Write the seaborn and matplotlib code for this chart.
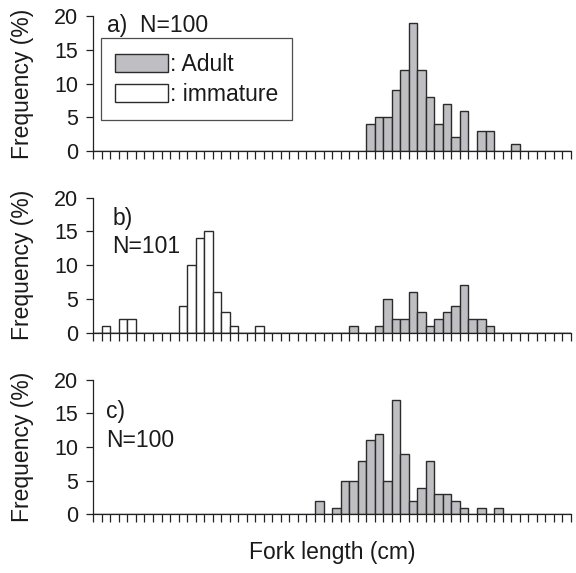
import numpy as np
import pandas as pd
import matplotlib
matplotlib.use("Agg")
import matplotlib.pyplot as plt
import seaborn as sns
from matplotlib.patches import Patch

sns.set_style("ticks")
plt.rcParams['font.family'] = ['Liberation Sans', 'DejaVu Sans']

# ---- data: frequency (%) per fork-length class (56 classes) ----
n_classes = 56
class_index = list(range(n_classes))

def fill(d):
    v = [0] * n_classes
    for k, val in d.items():
        v[k] = val
    return v

adult_a = fill({32: 4, 33: 5, 34: 5, 35: 9, 36: 12, 37: 19, 38: 12, 39: 8, 40: 4,
                41: 7, 42: 2, 43: 6, 45: 3, 46: 3, 49: 1})
immature_b = fill({1: 1, 3: 2, 4: 2, 10: 4, 11: 10, 12: 14, 13: 15, 14: 6, 15: 3,
                   16: 1, 19: 1})
adult_b = fill({30: 1, 33: 1, 34: 5, 35: 2, 36: 2, 37: 6, 38: 3, 39: 1, 40: 2,
                41: 3, 42: 4, 43: 7, 44: 2, 45: 2, 46: 1})
adult_c = fill({26: 2, 28: 1, 29: 5, 30: 5, 31: 8, 32: 11, 33: 12, 34: 5, 35: 17,
                36: 9, 37: 2, 38: 4, 39: 8, 40: 3, 41: 3, 42: 2, 43: 1, 45: 1, 47: 1})

panel_labels = ["a)  N=100", "b)\nN=101", "c)\nN=100"]
y_ticks = [0, 5, 10, 15, 20]
legend_labels = [": Adult", ": immature"]

ADULT = "#bfbfc3"
EDGE = "#2b2b2b"
TXT = "#1a1a1a"
FS = 16.5
FS_TICK = 15.5

fig = plt.figure(figsize=(5.76, 5.73), dpi=100)
left, width = 0.162, 0.829
bottoms = [0.7365, 0.4194, 0.1021]
h = 0.2355
axes = [fig.add_axes([left, b, width, h]) for b in bottoms]

centers = np.array(class_index) + 0.5

def draw(ax, vals, color):
    df = pd.DataFrame({"x": centers, "w": np.array(vals, dtype=float)})
    df = df[df.w > 0]
    sns.histplot(data=df, x="x", weights="w", binwidth=1, binrange=(0, n_classes),
                 stat="count", color=color, edgecolor=EDGE, linewidth=1.0,
                 alpha=1, ax=ax)

draw(axes[0], adult_a, ADULT)
draw(axes[1], immature_b, "white")
draw(axes[1], adult_b, ADULT)
draw(axes[2], adult_c, ADULT)

for ax in axes:
    ax.set_xlim(0, n_classes)
    ax.set_ylim(0, 20)
    ax.set_xticks(np.arange(n_classes + 1))
    ax.set_xticklabels([])
    ax.set_yticks(y_ticks)
    ax.set_yticklabels([str(t) for t in y_ticks], fontsize=FS_TICK, color=TXT)
    ax.tick_params(axis='x', direction='out', length=6, width=0.9, color="#222222")
    ax.tick_params(axis='y', direction='out', length=5, width=0.9, color="#222222", pad=6)
    sns.despine(ax=ax)
    for s in ["left", "bottom"]:
        ax.spines[s].set_linewidth(0.9)
        ax.spines[s].set_color("#222222")
    ax.set_xlabel("")
    ax.set_ylabel("Frequency (%)", fontsize=FS, color=TXT)
    ax.yaxis.set_label_coords(-0.125, 0.5)

axes[0].text(0.029, 0.88, panel_labels[0], transform=axes[0].transAxes,
             fontsize=FS, color=TXT, va="baseline", ha="left")
axes[1].text(0.040, 0.591, panel_labels[1], transform=axes[1].transAxes,
             fontsize=FS, color=TXT, va="baseline", ha="left", linespacing=1.3)
axes[2].text(0.027, 0.502, panel_labels[2], transform=axes[2].transAxes,
             fontsize=FS, color=TXT, va="baseline", ha="left", linespacing=1.3)

handles = [Patch(facecolor=ADULT, edgecolor=EDGE, linewidth=1.0),
           Patch(facecolor="white", edgecolor=EDGE, linewidth=1.0)]
leg = axes[0].legend(handles, legend_labels, loc="upper left",
                     bbox_to_anchor=(0.0155, 0.834), borderaxespad=0,
                     fontsize=FS, frameon=True, fancybox=False,
                     handlelength=2.3, handleheight=0.83, handletextpad=0.1,
                     labelspacing=0.32, borderpad=0.62)
leg.get_frame().set_edgecolor("#222222")
leg.get_frame().set_linewidth(0.9)
for t in leg.get_texts():
    t.set_color(TXT)

fig.text(0.577, 0.035, "Fork length (cm)", fontsize=FS, color=TXT,
         ha="center", va="center")

fig.savefig("out.png", dpi=100)
